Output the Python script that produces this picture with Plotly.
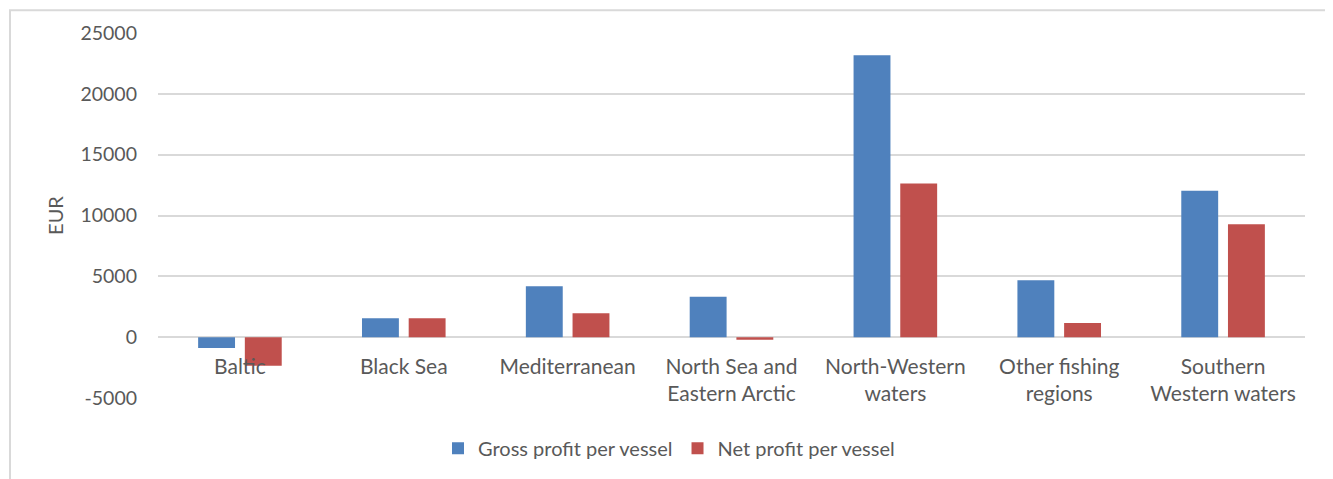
import plotly.graph_objects as go

categories = ["Baltic", "Black Sea", "Mediterranean", "North Sea and<br>Eastern Arctic",
              "North-Western<br>waters", "Other fishing<br>regions", "Southern<br>Western waters"]
gross_profit = [-900, 1550, 4190, 3330, 23180, 4680, 12040]
net_profit = [-2340, 1550, 1960, -220, 12640, 1170, 9290]
y_ticks = [-5000, 0, 5000, 10000, 15000, 20000, 25000]

FONT = "Lato"
GRAY = "#595959"
OFF = 8  # page body margin

fig = go.Figure()
fig.add_trace(go.Bar(x=categories, y=gross_profit, name="Gross profit per vessel",
                     marker=dict(color="#4F81BD", line=dict(width=0))))
fig.add_trace(go.Bar(x=categories, y=net_profit, name="Net profit per vessel",
                     marker=dict(color="#C0504D", line=dict(width=0))))

W, H = 1333 - OFF, 479 - OFF
L = 158 - OFF
T = 32.5 - OFF
R = W - (1305 - OFF)
B = H - (399.5 - OFF)
pw = W - L - R
ph = H - T - B

def py(y):  # screen y -> paper y
    return ((399.5) - y) / ph

def px(x):
    return (x - 158) / pw

fig.update_layout(
    width=W, height=H,
    margin=dict(l=L, r=R, t=T, b=B, pad=0),
    paper_bgcolor="white", plot_bgcolor="white",
    font=dict(family=FONT, size=20, color=GRAY),
    barmode="group", bargap=0.43, bargroupgap=0.21,
    showlegend=True,
    legend=dict(orientation="h", x=px(669), xanchor="center",
                y=py(449), yanchor="middle",
                font=dict(family=FONT, size=20, color=GRAY),
                itemwidth=30, entrywidth=0, bgcolor="rgba(0,0,0,0)"),
    xaxis=dict(anchor="free", position=1 / 6, showline=False, ticks="",
               showgrid=False, ticklabelstandoff=15,
               tickfont=dict(family=FONT, size=21, color=GRAY)),
    yaxis=dict(range=[-5000, 25000], tickvals=y_ticks, ticktext=[str(v) for v in y_ticks],
               showgrid=True, gridcolor="#D9D9D9", gridwidth=2,
               zeroline=True, zerolinecolor="#D9D9D9", zerolinewidth=2,
               showline=False, ticks="", ticklabelstandoff=20,
               tickfont=dict(family=FONT, size=19.5, color=GRAY),
               title=dict(text="EUR", font=dict(family=FONT, size=20, color=GRAY), standoff=11)),
)

# chart border
fig.add_shape(type="rect", xref="paper", yref="paper",
              x0=px(10), x1=px(1330),
              y0=py(495), y1=py(9.5),
              line=dict(color="#D9D9D9", width=2), fillcolor="rgba(0,0,0,0)", layer="below")

fig.write_html("out.html")
